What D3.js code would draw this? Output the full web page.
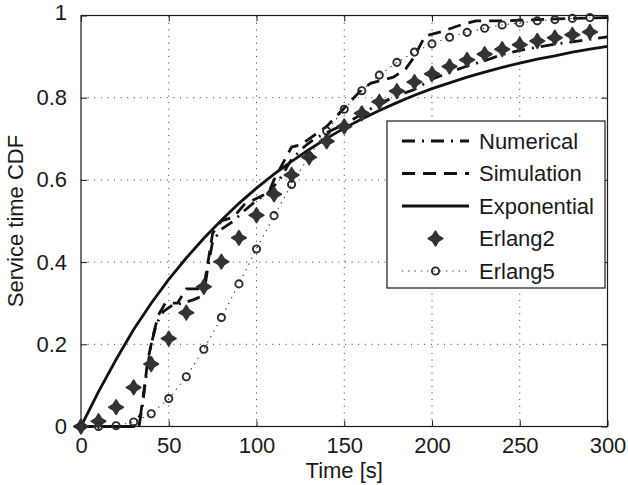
<!DOCTYPE html>
<html>
<head>
<meta charset="utf-8">
<script src="https://cdn.jsdelivr.net/npm/d3@7"></script>
<style>
  html, body { margin: 0; padding: 0; background: #fff; }
  svg text { font-family: "Liberation Sans", Arial, Helvetica, sans-serif; fill: #1a1a1a; }
</style>
</head>
<body>
<svg id="chart" width="628" height="485"></svg>
<script>
// Service-time CDF: numerical model, simulation and three fitted distributions.

const xTicks = [0, 50, 100, 150, 200, 250, 300];
const yTicks = [0, 0.2, 0.4, 0.6, 0.8, 1];
const yTickLabels = ["0", "0.2", "0.4", "0.6", "0.8", "1"];

// Numerical model (dash-dot)
const numericalT = [0, 33, 35, 37, 40, 43, 47, 52, 58, 65, 70, 72, 75, 80, 87, 93, 100, 107, 113, 120, 127, 133, 140, 150, 160, 170, 180, 190, 200, 210, 220, 230, 240, 250, 260, 270, 280, 290, 300];
const numericalY = [0, 0, 0.05, 0.12, 0.2, 0.25, 0.28, 0.295, 0.30, 0.31, 0.32, 0.38, 0.45, 0.48, 0.50, 0.525, 0.55, 0.57, 0.60, 0.65, 0.68, 0.70, 0.715, 0.735, 0.76, 0.785, 0.805, 0.82, 0.845, 0.862, 0.877, 0.89, 0.905, 0.915, 0.923, 0.93, 0.936, 0.942, 0.948];

// Simulation (dashed)
const simulationT = [0, 30, 34, 36, 38, 41, 44, 48, 55, 60, 67, 70, 72, 75, 80, 87, 93, 100, 107, 110, 115, 120, 125, 130, 140, 150, 160, 165, 178, 185, 190, 196, 205, 215, 225, 240, 260, 280, 300];
const simulationY = [0, 0, 0.03, 0.09, 0.16, 0.22, 0.27, 0.30, 0.30, 0.335, 0.335, 0.34, 0.39, 0.47, 0.50, 0.51, 0.54, 0.555, 0.57, 0.60, 0.64, 0.68, 0.685, 0.70, 0.73, 0.775, 0.82, 0.835, 0.85, 0.87, 0.90, 0.95, 0.96, 0.975, 0.987, 0.987, 0.99, 0.993, 0.995];

// Exponential fit (solid)
const exponentialT = [0, 10, 20, 30, 40, 50, 60, 70, 80, 90, 100, 110, 120, 130, 140, 150, 160, 170, 180, 190, 200, 210, 220, 230, 240, 250, 260, 270, 280, 290, 300];
const exponentialY = [0, 0.085, 0.163, 0.236, 0.300, 0.358, 0.410, 0.458, 0.502, 0.543, 0.580, 0.614, 0.645, 0.674, 0.701, 0.726, 0.748, 0.769, 0.788, 0.806, 0.822, 0.836, 0.850, 0.862, 0.874, 0.884, 0.894, 0.902, 0.911, 0.918, 0.925];

// Erlang fits, sampled every 10 s (markers)
const erlangT = [0, 10, 20, 30, 40, 50, 60, 70, 80, 90, 100, 110, 120, 130, 140, 150, 160, 170, 180, 190, 200, 210, 220, 230, 240, 250, 260, 270, 280, 290];
const erlang2Y = [0, 0.013, 0.047, 0.095, 0.152, 0.214, 0.277, 0.340, 0.401, 0.459, 0.514, 0.565, 0.612, 0.655, 0.694, 0.730, 0.762, 0.790, 0.816, 0.838, 0.858, 0.876, 0.892, 0.906, 0.918, 0.929, 0.938, 0.946, 0.953, 0.960];
const erlang5Y = [0, 0.0001, 0.002, 0.011, 0.031, 0.068, 0.121, 0.188, 0.265, 0.347, 0.432, 0.513, 0.589, 0.658, 0.719, 0.772, 0.817, 0.855, 0.886, 0.911, 0.931, 0.947, 0.959, 0.969, 0.977, 0.982, 0.987, 0.990, 0.993, 0.995];

const legendNames = ["Numerical", "Simulation", "Exponential", "Erlang2", "Erlang5"];

const svg = d3.select("#chart");
const W = 628, H = 485;
const margin = { left: 81, right: 20.5, top: 15.5, bottom: 58.5 };
const x0 = margin.left, x1 = W - margin.right;
const y0 = H - margin.bottom, y1 = margin.top;

const x = d3.scaleLinear().domain([0, 300]).range([x0, x1]);
const y = d3.scaleLinear().domain([0, 1]).range([y0, y1]);

const FS = 22;
const ink = "#1a1a1a";

// dotted grid
const grid = svg.append("g");
grid.selectAll("line.gx").data(xTicks.slice(1, -1)).join("line")
  .attr("x1", d => x(d)).attr("x2", d => x(d)).attr("y1", y0).attr("y2", y1)
  .attr("stroke", "#333").attr("stroke-width", 1).attr("stroke-dasharray", "1,5.6");
grid.selectAll("line.gy").data(yTicks.slice(1, -1)).join("line")
  .attr("y1", d => y(d)).attr("y2", d => y(d)).attr("x1", x0).attr("x2", x1)
  .attr("stroke", "#333").attr("stroke-width", 1).attr("stroke-dasharray", "1,5.6");

// axes with inward ticks on all four sides
const tickLen = 6;
const axB = svg.append("g").attr("transform", `translate(0,${y0})`)
  .call(d3.axisBottom(x).tickValues(xTicks).tickSizeInner(-tickLen).tickSizeOuter(0).tickPadding(11).tickFormat(d3.format("d")));
const axT = svg.append("g").attr("transform", `translate(0,${y1})`)
  .call(d3.axisTop(x).tickValues(xTicks).tickSizeInner(-tickLen).tickSizeOuter(0).tickFormat(""));
const axL = svg.append("g").attr("transform", `translate(${x0},0)`)
  .call(d3.axisLeft(y).tickValues(yTicks).tickSizeInner(-tickLen).tickSizeOuter(0).tickPadding(14)
    .tickFormat((d, i) => yTickLabels[i]));
const axR = svg.append("g").attr("transform", `translate(${x1},0)`)
  .call(d3.axisRight(y).tickValues(yTicks).tickSizeInner(-tickLen).tickSizeOuter(0).tickFormat(""));
[axB, axT, axL, axR].forEach(a => {
  a.select(".domain").remove();
  a.selectAll(".tick line").attr("stroke", ink).attr("stroke-width", 1);
  a.selectAll(".tick text").attr("font-size", FS).attr("fill", ink)
    .style("font-family", '"Liberation Sans", Arial, sans-serif');
});
axB.selectAll(".tick text").attr("dy", "0.71em");
// top label sits slightly higher, inside the figure
axL.selectAll(".tick").filter(d => d === 1).select("text").attr("dy", "0.2em");

// frame
svg.append("rect").attr("x", x0).attr("y", y1).attr("width", x1 - x0).attr("height", y0 - y1)
  .attr("fill", "none").attr("stroke", ink).attr("stroke-width", 1.2);

// axis titles
svg.append("text").attr("x", (x0 + x1) / 2).attr("y", 478).attr("text-anchor", "middle")
  .attr("font-size", FS).text("Time [s]");
svg.append("text").attr("transform", `translate(23,${(y0 + y1) / 2}) rotate(-90)`)
  .attr("text-anchor", "middle").attr("font-size", FS).text("Service time CDF");

const plot = svg.append("g");
const line = d3.line().x(d => x(d[0])).y(d => y(d[1]));
const zip = (a, b) => a.map((v, i) => [v, b[i]]);

const styles = {
  numerical: { w: 2.8, dash: "13,7,2,7" },
  simulation: { w: 2.8, dash: "13,8" },
  exponential: { w: 2.8, dash: null },
  erlang5: { w: 1.1, dash: "1.3,5" }
};

plot.append("path").datum(zip(numericalT, numericalY)).attr("d", line)
  .attr("fill", "none").attr("stroke", "#111").attr("stroke-width", styles.numerical.w)
  .attr("stroke-dasharray", styles.numerical.dash);
plot.append("path").datum(zip(simulationT, simulationY)).attr("d", line)
  .attr("fill", "none").attr("stroke", "#111").attr("stroke-width", styles.simulation.w)
  .attr("stroke-dasharray", styles.simulation.dash);
plot.append("path").datum(zip(exponentialT, exponentialY)).attr("d", line)
  .attr("fill", "none").attr("stroke", "#111").attr("stroke-width", styles.exponential.w);

// four-pointed filled star marker
const starPath = "M0,-7.2 L2.7,-2.7 L7.2,0 L2.7,2.7 L0,7.2 L-2.7,2.7 L-7.2,0 L-2.7,-2.7 Z";
function star(g, cx, cy) {
  g.append("path").attr("d", starPath).attr("transform", `translate(${cx},${cy})`)
    .attr("fill", "#333").attr("stroke", "#333").attr("stroke-width", 1.8).attr("stroke-linejoin", "round");
}
function ring(g, cx, cy) {
  g.append("circle").attr("cx", cx).attr("cy", cy).attr("r", 3.6)
    .attr("fill", "none").attr("stroke", "#2a2a2a").attr("stroke-width", 1.9);
}

const e2 = plot.append("g");
zip(erlangT, erlang2Y).forEach(d => star(e2, x(d[0]), y(d[1])));

plot.append("path").datum(zip(erlangT, erlang5Y)).attr("d", line)
  .attr("fill", "none").attr("stroke", "#333").attr("stroke-width", styles.erlang5.w)
  .attr("stroke-dasharray", styles.erlang5.dash);
const e5 = plot.append("g");
zip(erlangT, erlang5Y).forEach(d => ring(e5, x(d[0]), y(d[1])));

// legend
const lg = svg.append("g");
const lgX = 387, lgY = 121, lgW = 218, lgH = 167;
lg.append("rect").attr("x", lgX).attr("y", lgY).attr("width", lgW).attr("height", lgH)
  .attr("fill", "#fff").attr("stroke", ink).attr("stroke-width", 1.2);
const rowY = i => lgY + 20 + i * 32.5;
const sx0 = lgX + 15, sx1 = lgX + 82, sxm = (sx0 + sx1) / 2;
legendNames.forEach((name, i) => {
  const cy = rowY(i);
  if (i === 0 || i === 1 || i === 2) {
    const key = ["numerical", "simulation", "exponential"][i];
    lg.append("line").attr("x1", sx0).attr("x2", sx1).attr("y1", cy).attr("y2", cy)
      .attr("stroke", "#111").attr("stroke-width", styles[key].w)
      .attr("stroke-dasharray", styles[key].dash);
  } else if (i === 3) {
    star(lg, sxm, cy);
  } else {
    lg.append("line").attr("x1", sx0).attr("x2", sx1).attr("y1", cy).attr("y2", cy)
      .attr("stroke", "#333").attr("stroke-width", styles.erlang5.w)
      .attr("stroke-dasharray", styles.erlang5.dash);
    ring(lg, sxm, cy);
  }
  lg.append("text").attr("x", lgX + 92).attr("y", cy + 7.5).attr("font-size", FS).text(name);
});
</script>
</body>
</html>
